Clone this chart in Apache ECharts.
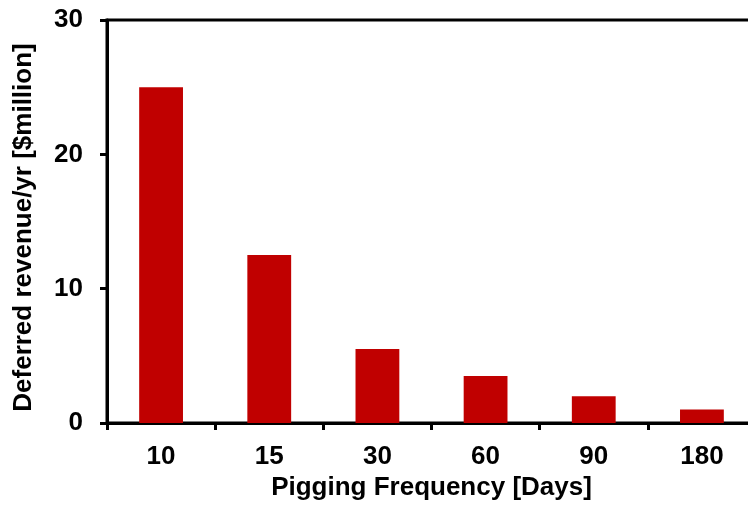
<!DOCTYPE html>
<html><head><meta charset="utf-8">
<script src="https://cdn.jsdelivr.net/npm/echarts@6/dist/echarts.min.js"></script>
<style>html,body{margin:0;padding:0;background:#fff}#c{width:748px;height:508px}</style>
</head><body><div id="c"></div>
<script>
const categories = ['10', '15', '30', '60', '90', '180'];
const deferredRevenue = [25, 12.5, 5.5, 3.5, 2, 1];
const yTicks = {min: 0, max: 30, interval: 10};
const xTitle = 'Pigging Frequency [Days]';
const yTitle = 'Deferred revenue/yr [$million]';

const chart = echarts.init(document.getElementById('c'));
const font = 'Liberation Sans, Arial, sans-serif';
chart.setOption({
  animation: false,
  grid: {left: 107, top: 20, width: 649, height: 403, outerBoundsMode: 'none', containLabel: false,
         show: true, borderColor: '#000', borderWidth: 3, backgroundColor: 'transparent'},
  xAxis: {
    type: 'category', data: categories,
    axisLine: {lineStyle: {color: '#000', width: 3}},
    axisTick: {show: true, length: 7, lineStyle: {color: '#000', width: 3}, alignWithLabel: false},
    axisLabel: {color: '#000', fontFamily: font, fontWeight: 'bold', fontSize: 26, margin: 21},
    name: xTitle, nameLocation: 'middle', nameGap: 50,
    nameTextStyle: {color: '#000', fontFamily: font, fontWeight: 'bold', fontSize: 26}
  },
  yAxis: {
    type: 'value', min: yTicks.min, max: yTicks.max, interval: yTicks.interval,
    splitLine: {show: false},
    axisLine: {show: true, lineStyle: {color: '#000', width: 3}},
    axisTick: {show: true, length: 7, lineStyle: {color: '#000', width: 3}},
    axisLabel: {color: '#000', fontFamily: font, fontWeight: 'bold', fontSize: 26, margin: 24},
    name: yTitle, nameLocation: 'middle', nameGap: 70,
    nameTextStyle: {color: '#000', fontFamily: font, fontWeight: 'bold', fontSize: 26, padding: [0, 12, 0, 0]}
  },
  series: [{
    type: 'bar', data: deferredRevenue, barWidth: '40.5%',
    itemStyle: {color: '#C00000'}
  }]
});
</script></body></html>
